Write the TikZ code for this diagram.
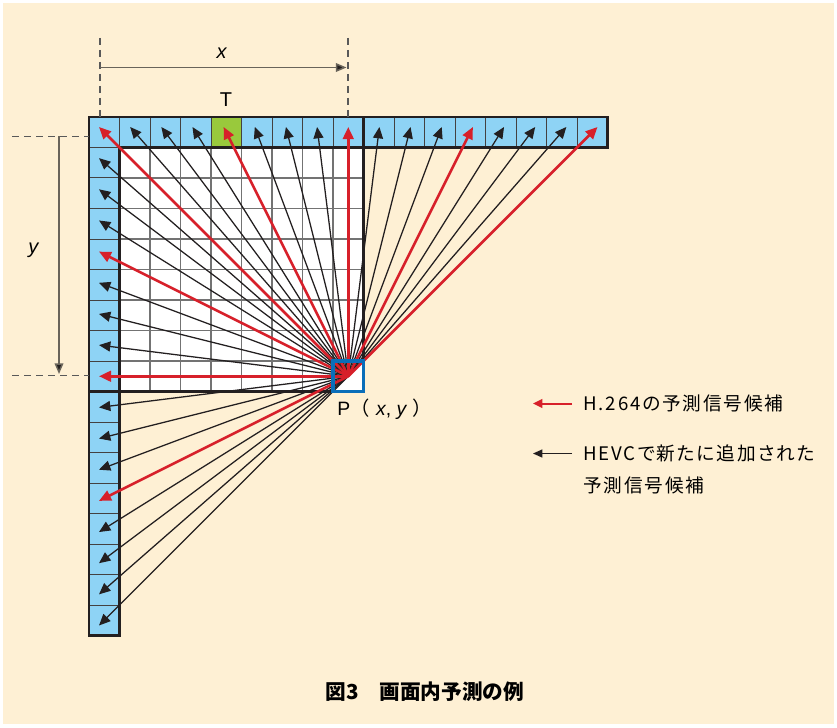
\documentclass[tikz,border=0pt]{standalone}
\usepackage{fontspec}
\setmainfont{Liberation Sans}
\newfontfamily\jp{Noto Sans CJK JP}
\newfontfamily\jpl[LetterSpace=10,RawFeature=+palt]{Noto Sans CJK JP}
\usetikzlibrary{arrows.meta,calc}
\definecolor{bg}{RGB}{254,240,212}
\definecolor{cellblue}{RGB}{142,211,245}
\definecolor{cellgreen}{RGB}{153,201,60}
\definecolor{pblue}{RGB}{10,110,185}
\definecolor{redarr}{RGB}{215,32,42}
\definecolor{blk}{RGB}{35,31,32}
\definecolor{dimgrey}{RGB}{105,100,90}
\begin{document}
\begin{tikzpicture}[x=0.75pt,y=-0.75pt,
  sepline/.style={draw=blk!85, line width=0.75pt},
  gridline/.style={draw=black!55, line width=0.9pt},
  thickline/.style={draw=blk, line width=1.8pt, line join=miter},
  blackarrow/.style={draw=blk, line width=0.95pt, -{Triangle[length=8.5pt,width=7.5pt]}},
  redarrow/.style={draw=redarr, line width=1.9pt, -{Triangle[length=9pt,width=8pt]}},
  legred/.style={draw=redarr, line width=1.5pt, -{Triangle[length=7pt,width=6.5pt]}},
  legblack/.style={draw=blk, line width=0.9pt, -{Triangle[length=7pt,width=6pt]}},
  dimdash/.style={draw=black!65, line width=0.9pt, dash pattern=on 5pt off 4pt},
  dimarrow/.style={draw=dimgrey, line width=1.1pt, -{Triangle[length=8pt,width=6.5pt,fill=blk]}},
  lbl/.style={font=\fontsize{15pt}{18pt}\selectfont, inner sep=0pt},
  leg/.style={font=\jpl\fontsize{14pt}{17pt}\selectfont, inner sep=0pt, anchor=west}
]
\useasboundingbox (0,0) rectangle (837,727);
\fill[white] (0,0) rectangle (837,727);
\fill[bg] (3,3) rectangle (834,724);

% cell centres
\foreach \k in {1,...,17} \coordinate (t\k) at ({89+(\k-0.5)*30.5},132.25);
\foreach \j in {1,...,17} \coordinate (l\j) at (104.25,{117+(\j-0.5)*30.5});
\coordinate (P) at (348.25,376.25);
\foreach \k in {1,...,17} \coordinate (tt\k) at ($(P)!1.0215!(t\k)$);
\foreach \j in {2,...,17} \coordinate (lt\j) at ($(P)!1.0215!(l\j)$);

% fills
\fill[cellblue] (89,117) rectangle (607.5,147.5);
\fill[cellblue] (89,117) rectangle (119.5,635.5);
\fill[cellgreen] (211,117) rectangle (241.5,147.5);
\fill[white] (119.5,147.5) rectangle (363.5,391.5);

% thin lines
\foreach \k in {1,...,16} \draw[sepline] ({89+\k*30.5},117) -- ({89+\k*30.5},147.5);
\foreach \j in {1,...,16} \draw[sepline] (89,{117+\j*30.5}) -- (119.5,{117+\j*30.5});
\foreach \k in {1,...,7} {
  \draw[gridline] ({119.5+\k*30.5},147.5) -- ({119.5+\k*30.5},391.5);
  \draw[gridline] (119.5,{147.5+\k*30.5}) -- (363.5,{147.5+\k*30.5});
}

% thick outline
\draw[thickline] (89,117) -- (607.5,117) -- (607.5,147.5) -- (119.5,147.5) -- (119.5,635.5) -- (89,635.5) -- cycle;
\draw[thickline] (363.5,117) -- (363.5,391.5) -- (89,391.5);

% arrows
\foreach \k in {2,3,4,6,7,8,10,11,12,14,15,16} \draw[blackarrow] (P) -- (tt\k);
\foreach \j in {2,3,4,6,7,8,10,11,12,14,15,16,17} \draw[blackarrow] (P) -- (lt\j);
\foreach \k in {1,5,9,13,17} \draw[redarrow] (P) -- (tt\k);
\foreach \j in {5,9,13} \draw[redarrow] (P) -- (lt\j);

\node (Pbox) [draw=pblue, line width=2.6pt, minimum width=22.9pt, minimum height=22.9pt, inner sep=0pt] at (P) {};

% dimensions
\coordinate (dx1) at (100,38);
\coordinate (dx2) at (348,38);
\coordinate (dx1b) at (100,117);
\coordinate (dx2b) at (348,117);
\draw[dimdash] (dx1) -- (dx1b);
\draw[dimdash] (dx2) -- (dx2b);
\coordinate (ax1) at (100,67.5);
\coordinate (ax2) at (346.5,67.5);
\draw[dimarrow] (ax1) -- (ax2);
\node[lbl] (xl) at (222,53) {\textit{x}};
\node[lbl] (tl) at (226,100) {T};

\coordinate (dy1) at (12,136.5);
\coordinate (dy1b) at (89,136.5);
\coordinate (dy2) at (12,375.5);
\coordinate (dy2b) at (89,375.5);
\draw[dimdash] (dy1) -- (dy1b);
\draw[dimdash] (dy2) -- (dy2b);
\coordinate (ay1) at (59,136.5);
\coordinate (ay2) at (59,374);
\draw[dimarrow] (ay1) -- (ay2);
\node[lbl] (yl) at (34,250) {\textit{y}};

\node[font=\fontsize{14.5pt}{17pt}\selectfont, inner sep=0pt, anchor=west] (pl) at (337,409) {P{\jp （}\hspace{5pt}\textit{x}, \textit{y}\hspace{4pt}{\jp ）}};

% legend
\coordinate (lr1) at (572,403.5);
\coordinate (lr2) at (533,403.5);
\draw[legred] (lr1) -- (lr2);
\node[leg] (leg1) at (583,403.5) {H.264の予測信号候補};
\coordinate (lb1) at (572,453.5);
\coordinate (lb2) at (533,453.5);
\draw[legblack] (lb1) -- (lb2);
\node[leg] (leg2) at (583,453.5) {HEVCで新たに追加された};
\node[leg] (leg3) at (583,485) {予測信号候補};

% caption
\node[font=\jp\bfseries\fontsize{15.5pt}{18pt}\selectfont, inner sep=0pt] (cap) at (425,692) {図3　画面内予測の例};
\end{tikzpicture}
\end{document}
